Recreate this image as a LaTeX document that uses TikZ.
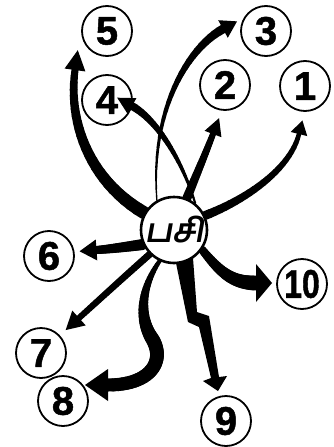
\documentclass[tikz,border=0pt]{standalone}
\usepackage{fontspec}
\usepackage{graphicx}
\usetikzlibrary{calc}
\newfontfamily\tamilf[Script=Tamil,FakeSlant=0.18]{Hind Madurai}
\newfontfamily\numf[FakeBold=1.2]{Liberation Sans}
\pgfdeclarelayer{bg}
\pgfsetlayers{bg,main}
\newcommand{\taperseg}[6]{%
  \foreach \i in {1,...,24}{%
    \pgfmathsetmacro{\ta}{(\i-1)/24}%
    \pgfmathsetmacro{\tb}{\i/24}%
    \pgfmathsetmacro{\w}{#5+(#6-#5)*(\i-0.5)/24}%
    \path #1 .. controls #2 and #3 .. #4 coordinate[pos=\ta] (ta) coordinate[pos=\tb] (tb);%
    \draw[line width=\w pt,line cap=round] (ta) -- (tb);%
  }%
}
\newcommand{\ahead}[4]{%
  \coordinate (hb) at #1;%
  \coordinate (ht) at ($(hb)!-#3pt!#2$);%
  \fill ($(hb)!#4pt/2!90:(ht)$) -- (ht) -- ($(hb)!#4pt/2!-90:(ht)$) -- cycle;%
}
\begin{document}
\begin{tikzpicture}[x=1pt,y=-1pt,
  num/.style={circle,draw,line width=1.8pt,minimum size=50pt,inner sep=0pt,
    font=\numf\bfseries\fontsize{40}{40}\selectfont},
  hub/.style={circle,draw,line width=2.6pt,fill=white,minimum size=66pt,inner sep=0pt,
    font=\tamilf\bfseries\fontsize{33}{33}\selectfont}]
\useasboundingbox (0,0) rectangle (334,447);
\node[hub] (c) at (174,230) {பசி};
\node[num] (n1) at (305,86) {1};
\node[num] (n2) at (225,85) {2};
\node[num] (n3) at (266,31) {3};
\node[num] (n4) at (107,100) {4};
\node[num] (n5) at (107,31) {5};
\node[num] (n6) at (49,256) {6};
\node[num] (n7) at (41,353) {7};
\node[num] (n8) at (63,401) {8};
\node[num] (n9) at (226,421) {9};
\node[num] (n10) at (302,284) {\scalebox{0.8}[1]{10}};
\begin{pgfonlayer}{bg}
% 1
\taperseg{(c.25)}{(245,200)}{(290,170)}{(299,134)}{9}{4.5}
\ahead{(299,134)}{(290,170)}{14}{17}
% 2
\taperseg{(c.68)}{(195,178)}{(205,155)}{(213,134)}{9}{6}
\ahead{(213,134)}{(205,155)}{17}{18}
% 3
\taperseg{(c.120)}{(150,110)}{(188,48)}{(223,29)}{1.2}{9}
\ahead{(223,29)}{(188,48)}{16}{20}
% 4
\taperseg{(c.52)}{(182,160)}{(157,120)}{(132,106)}{2}{8}
\ahead{(132,106)}{(157,120)}{17}{18}
% 5
\taperseg{(c.150)}{(88,180)}{(68,120)}{(75,70)}{13}{7}
\ahead{(75,70)}{(68,120)}{20}{21}
% 6
\taperseg{(c.205)}{(125,247)}{(110,249)}{(96.5,250)}{11}{8}
\ahead{(96.5,250)}{(110,249)}{17}{21}
% 7
\taperseg{(c.225)}{(125,276)}{(100,299)}{(79,318)}{7}{6}
\ahead{(79,318)}{(100,299)}{18}{20}
% 8
\taperseg{(c.245)}{(141,288)}{(138,318)}{(153,340)}{4}{14}
\taperseg{(153,340)}{(165,362)}{(150,385)}{(108,385)}{14}{13}
\ahead{(108,385)}{(150,385)}{23}{32}
% 9
\fill (175,258) -- (193,258) -- (197,312) -- (209,316) -- (219,377) -- (227,376)
  -- (218,391) -- (203,381) -- (211,378) -- (199,327) -- (188,322) -- cycle;
% 10
\taperseg{(c.-35)}{(220,272)}{(232,283)}{(256,283)}{8}{15}
\ahead{(256,283)}{(232,283)}{16}{38}
\end{pgfonlayer}
\end{tikzpicture}
\end{document}
